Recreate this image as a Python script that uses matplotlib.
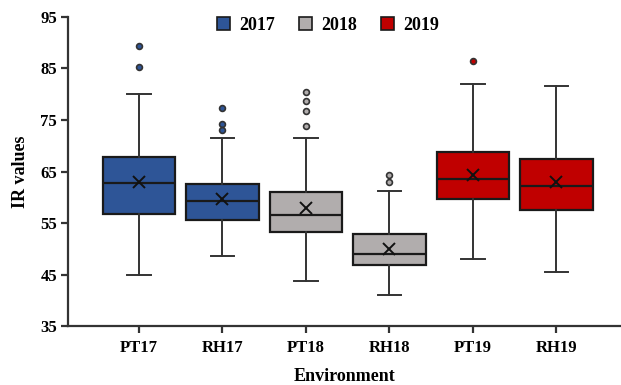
import matplotlib
matplotlib.use("Agg")
import matplotlib.pyplot as plt
from matplotlib.patches import Patch

categories = ["PT17", "RH17", "PT18", "RH18", "PT19", "RH19"]
years = ["2017", "2017", "2018", "2018", "2019", "2019"]
whisker_low = [44.9, 48.7, 43.7, 41.1, 48.1, 45.5]
q1 = [56.7, 55.6, 53.3, 46.8, 59.7, 57.5]
median = [62.8, 59.3, 56.5, 49.0, 63.6, 62.2]
q3 = [67.8, 62.6, 61.0, 52.8, 68.8, 67.4]
whisker_high = [80.1, 71.5, 71.6, 61.2, 81.9, 81.5]
means = [63.0, 59.7, 57.9, 50.0, 64.3, 63.0]
outliers = [
    [89.3, 85.2],
    [77.4, 74.3, 73.0],
    [80.4, 78.6, 76.8, 73.8],
    [64.4, 62.9],
    [86.5],
    [],
]
year_labels = ["2017", "2018", "2019"]
year_colors = {"2017": "#2E5597", "2018": "#B1ADAD", "2019": "#C00000"}

serif = ["Liberation Serif", "DejaVu Serif"]
plt.rcParams["font.family"] = serif
plt.rcParams["font.weight"] = "bold"

fig = plt.figure(figsize=(6.21, 3.85), dpi=100)
ax = fig.add_axes([0.1095, 0.153, 0.89, 0.803])

stats = []
for i, c in enumerate(categories):
    stats.append(dict(label=c, whislo=whisker_low[i], q1=q1[i], med=median[i],
                      q3=q3[i], whishi=whisker_high[i], mean=means[i],
                      fliers=outliers[i]))

positions = list(range(1, len(categories) + 1))
bp = ax.bxp(stats, positions=positions, widths=0.87, capwidths=0.28,
            patch_artist=True, showmeans=True, showfliers=True,
            boxprops=dict(edgecolor="#1a1a1a", linewidth=1.6),
            medianprops=dict(color="#1a1a1a", linewidth=1.6),
            whiskerprops=dict(color="#333333", linewidth=1.4),
            capprops=dict(color="#333333", linewidth=1.4),
            meanprops=dict(marker="x", markeredgecolor="#111111", markersize=8,
                           markeredgewidth=1.4, linestyle="none"),
            flierprops=dict(marker="o", markersize=4.2, markeredgecolor="#333333",
                            markeredgewidth=1.2))

for i, y in enumerate(years):
    bp["boxes"][i].set_facecolor(year_colors[y])
    bp["fliers"][i].set_markerfacecolor(year_colors[y])

ax.set_xlim(0.15, 6.77)
ax.set_ylim(35, 95)
ax.set_yticks(range(35, 96, 10))
ax.set_xticks(positions)
ax.set_xticklabels(categories)
for lbl in ax.get_xticklabels() + ax.get_yticklabels():
    lbl.set_fontweight("bold")
    lbl.set_fontsize(12)
ax.tick_params(axis="both", direction="out", length=5, width=1.6, color="#333333")
ax.tick_params(axis="x", pad=5)
ax.tick_params(axis="y", pad=3)

for s in ["top", "right"]:
    ax.spines[s].set_visible(False)
for s in ["left", "bottom"]:
    ax.spines[s].set_linewidth(1.6)
    ax.spines[s].set_color("#333333")

ax.set_ylabel("IR values", fontsize=13, fontweight="bold", labelpad=8)
ax.set_xlabel("Environment", fontsize=13, fontweight="bold", labelpad=9)

handles = [Patch(facecolor=year_colors[y], edgecolor="#1a1a1a", linewidth=1.2, label=y)
           for y in year_labels]
fig.legend(handles=handles, loc="center", bbox_to_anchor=(328 / 621, 1 - 25 / 385),
           ncol=3, frameon=False, prop=dict(family=serif, weight="bold", size=13),
           handlelength=0.75, handleheight=0.75, handletextpad=0.5, columnspacing=1.3)

fig.savefig("out.png", dpi=100)
